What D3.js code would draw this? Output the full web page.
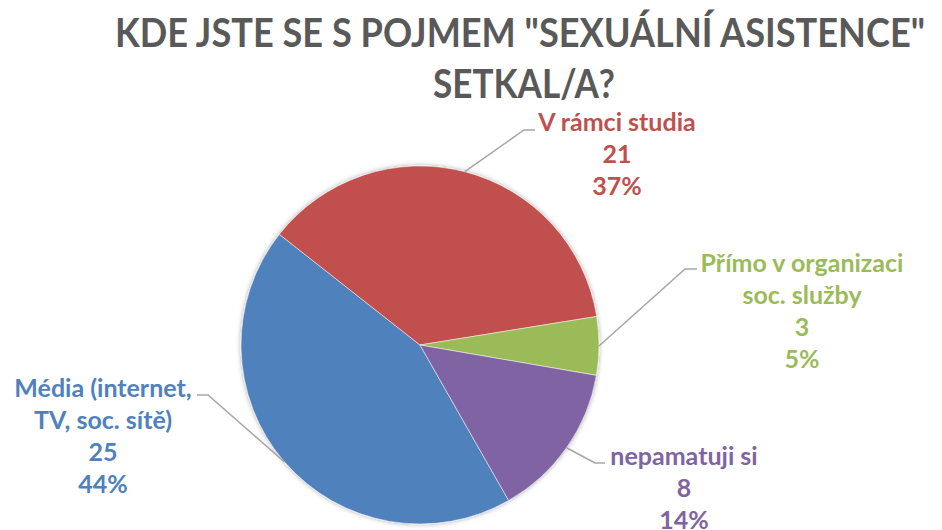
<!DOCTYPE html>
<html>
<head>
<meta charset="utf-8">
<script src="https://cdn.jsdelivr.net/npm/d3@7"></script>
<style>
  html, body { margin: 0; padding: 0; background: #fff; }
  svg { display: block; }
  text { font-family: Lato, "Open Sans", sans-serif; font-weight: bold; }
</style>
</head>
<body>
<svg id="chart" width="942" height="530"></svg>
<script>
// ---- data ----
const titleLines = ['KDE JSTE SE S POJMEM "SEXUÁLNÍ ASISTENCE"', 'SETKAL/A?'];
const categories = ['Média (internet, TV, soc. sítě)', 'V rámci studia', 'Přímo v organizaci soc. služby', 'nepamatuji si'];
const labelLines = [['Média (internet,', 'TV, soc. sítě)'], ['V rámci studia'], ['Přímo v organizaci', 'soc. služby'], ['nepamatuji si']];
const values = [25, 21, 3, 8];
const colors = ['#4F81BD', '#C0504D', '#9BBB59', '#8064A2'];

// ---- layout ----
const W = 942, H = 530;
const cx = 420, cy = 345, R = 179;
const startDeg = 150.3;
const svg = d3.select('#chart');

const defs = svg.append('defs');
const f = defs.append('filter').attr('id', 'sh').attr('x', '-10%').attr('y', '-10%').attr('width', '120%').attr('height', '120%');
f.append('feGaussianBlur').attr('in', 'SourceAlpha').attr('stdDeviation', 2.5).attr('result', 'b');
f.append('feOffset').attr('in', 'b').attr('dx', 0).attr('dy', 0).attr('result', 'o');
f.append('feComponentTransfer').attr('in', 'o').attr('result', 'o2')
  .append('feFuncA').attr('type', 'linear').attr('slope', 0.35);
const m = f.append('feMerge');
m.append('feMergeNode').attr('in', 'o2');
m.append('feMergeNode').attr('in', 'SourceGraphic');

// title
const title = svg.append('g');
const titleY = [47, 98];
const titleX = [520, 524];
const titleLen = [810, 182];
titleLines.forEach((t, i) => {
  title.append('text')
    .attr('x', titleX[i]).attr('y', titleY[i])
    .attr('text-anchor', 'middle')
    .attr('fill', '#595959')
    .attr('font-size', 41)
    .attr('textLength', titleLen[i])
    .attr('lengthAdjust', 'spacingAndGlyphs')
    .text(t);
});

const total = d3.sum(values);
const pie = d3.pie().sort(null).value(d => d)
  .startAngle(startDeg * Math.PI / 180)
  .endAngle(startDeg * Math.PI / 180 + 2 * Math.PI);
const arcs = pie(values);
const arc = d3.arc().innerRadius(0).outerRadius(R);

const g = svg.append('g').attr('transform', `translate(${cx},${cy})`);
g.append('g').attr('filter', 'url(#sh)')
  .selectAll('path').data(arcs).join('path')
  .attr('d', arc)
  .attr('fill', (d, i) => colors[i])
  .attr('stroke', '#fff').attr('stroke-width', 0.5);

// label placements (centre x, first baseline) and leader elbow points
const labelPos = [[103, 397], [617, 131], [802, 272], [684, 465]];
const elbows = [[[208, 395], [197, 395]], [[524, 130], [535, 130]], [[685, 269], [697, 269]], [[595, 463], [605, 463]]];
const lineH = 32;

const fmtPct = v => Math.round(v / total * 100) + '%';

arcs.forEach((a, i) => {
  const mid = (a.startAngle + a.endAngle) / 2;
  const ex = cx + R * Math.sin(mid), ey = cy - R * Math.cos(mid);
  const pts = [[ex, ey]].concat(elbows[i]);
  svg.append('path')
    .attr('d', d3.line()(pts))
    .attr('fill', 'none')
    .attr('stroke', '#A6A6A6')
    .attr('stroke-width', 1.5);

  const lines = labelLines[i].concat([String(values[i]), fmtPct(values[i])]);
  const t = svg.append('text')
    .attr('text-anchor', 'middle')
    .attr('fill', colors[i])
    .attr('font-size', 25);
  lines.forEach((l, k) => {
    t.append('tspan')
      .attr('x', labelPos[i][0])
      .attr('y', labelPos[i][1] + k * lineH)
      .text(l);
  });
});
</script>
</body>
</html>
